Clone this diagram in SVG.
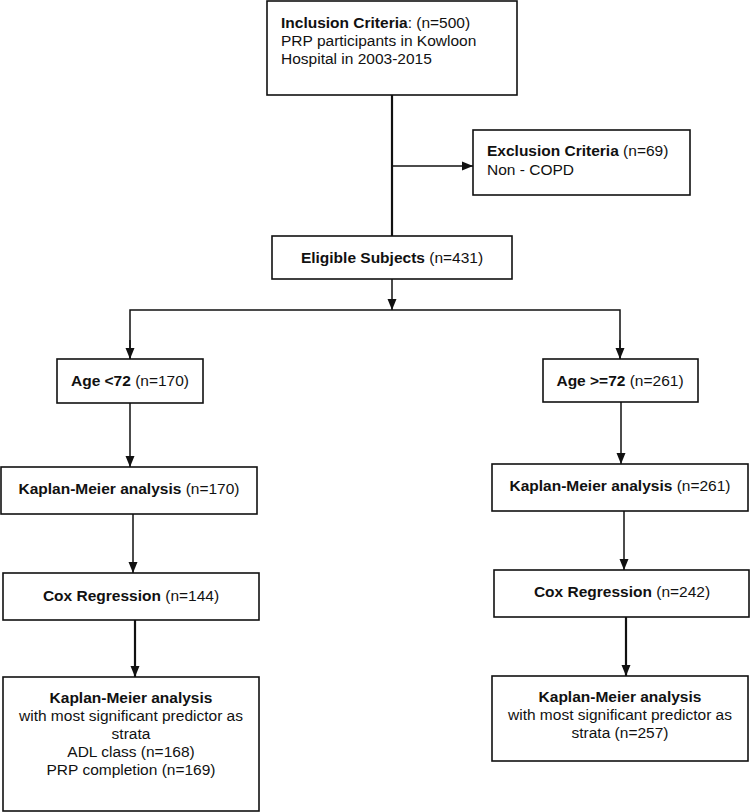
<svg xmlns="http://www.w3.org/2000/svg" width="751" height="812" viewBox="0 0 751 812">
<style>
.box{fill:#fff;stroke:#111;stroke-width:1.6}
text{font-family:"Liberation Sans",Arial,sans-serif;font-size:15.5px;fill:#111}
.b{font-weight:bold}
.c{text-anchor:middle}
.ln{fill:none;stroke:#111;stroke-width:1.5}
.lt{fill:none;stroke:#111;stroke-width:2.2}
</style>
<defs>
<marker id="ah" markerUnits="userSpaceOnUse" markerWidth="12" markerHeight="12" viewBox="0 0 12 12" refX="11" refY="6" orient="auto">
<path d="M0,1.5 L11,6 L0,10.5 Z" fill="#111"/>
</marker>
</defs>
<g id="connectors">
<line class="lt" x1="392" y1="95" x2="392" y2="236"/>
<line class="ln" x1="392" y1="166" x2="473" y2="166" marker-end="url(#ah)"/>
<line class="ln" x1="392" y1="279" x2="392" y2="310" marker-end="url(#ah)"/>
<polyline class="ln" points="130,359 130,310 620,310 620,359"/>
<line class="ln" x1="130" y1="340" x2="130" y2="359" marker-end="url(#ah)"/>
<line class="ln" x1="620" y1="340" x2="620" y2="359" marker-end="url(#ah)"/>
<line class="ln" x1="130" y1="403" x2="130" y2="467" marker-end="url(#ah)"/>
<line class="ln" x1="621" y1="402" x2="621" y2="464" marker-end="url(#ah)"/>
<line class="ln" x1="133" y1="514" x2="133" y2="573" marker-end="url(#ah)"/>
<line class="ln" x1="624" y1="511" x2="624" y2="570" marker-end="url(#ah)"/>
<line class="lt" x1="135" y1="620" x2="135" y2="677" marker-end="url(#ah)"/>
<line class="lt" x1="626" y1="617" x2="626" y2="676" marker-end="url(#ah)"/>
</g>
<g id="inclusion">
<rect class="box" x="267" y="1" width="250" height="94"/>
<text x="281" y="28"><tspan class="b">Inclusion Criteria</tspan>: (n=500)</text>
<text x="281" y="46">PRP participants in Kowloon</text>
<text x="281" y="64">Hospital in 2003-2015</text>
</g>
<g id="exclusion">
<rect class="box" x="473" y="130" width="217" height="65"/>
<text x="487" y="156"><tspan class="b">Exclusion Criteria</tspan> (n=69)</text>
<text x="487" y="175">Non - COPD</text>
</g>
<g id="eligible">
<rect class="box" x="272" y="236" width="240" height="43"/>
<text class="c" x="392" y="263"><tspan class="b">Eligible Subjects</tspan> (n=431)</text>
</g>
<g id="age-lt-72">
<rect class="box" x="57" y="359" width="146" height="44"/>
<text class="c" x="130" y="386"><tspan class="b">Age &lt;72</tspan> (n=170)</text>
</g>
<g id="age-ge-72">
<rect class="box" x="543" y="359" width="155" height="43"/>
<text class="c" x="620" y="386"><tspan class="b">Age &gt;=72</tspan> (n=261)</text>
</g>
<g id="km-left">
<rect class="box" x="1" y="467" width="256" height="47"/>
<text class="c" x="129" y="494"><tspan class="b">Kaplan-Meier analysis</tspan> (n=170)</text>
</g>
<g id="km-right">
<rect class="box" x="492" y="464" width="256" height="47"/>
<text class="c" x="620" y="491"><tspan class="b">Kaplan-Meier analysis</tspan> (n=261)</text>
</g>
<g id="cox-left">
<rect class="box" x="3" y="573" width="256" height="47"/>
<text class="c" x="131" y="601"><tspan class="b">Cox Regression</tspan> (n=144)</text>
</g>
<g id="cox-right">
<rect class="box" x="494" y="570" width="255" height="47"/>
<text class="c" x="622" y="597"><tspan class="b">Cox Regression</tspan> (n=242)</text>
</g>
<g id="km-strata-left">
<rect class="box" x="3" y="677" width="256" height="134"/>
<text class="c b" x="131" y="703">Kaplan-Meier analysis</text>
<text class="c" x="131" y="721">with most significant predictor as</text>
<text class="c" x="131" y="739">strata</text>
<text class="c" x="131" y="757">ADL class (n=168)</text>
<text class="c" x="131" y="775">PRP completion (n=169)</text>
</g>
<g id="km-strata-right">
<rect class="box" x="492" y="676" width="256" height="85"/>
<text class="c b" x="620" y="702">Kaplan-Meier analysis</text>
<text class="c" x="620" y="720">with most significant predictor as</text>
<text class="c" x="620" y="738">strata (n=257)</text>
</g>
</svg>
